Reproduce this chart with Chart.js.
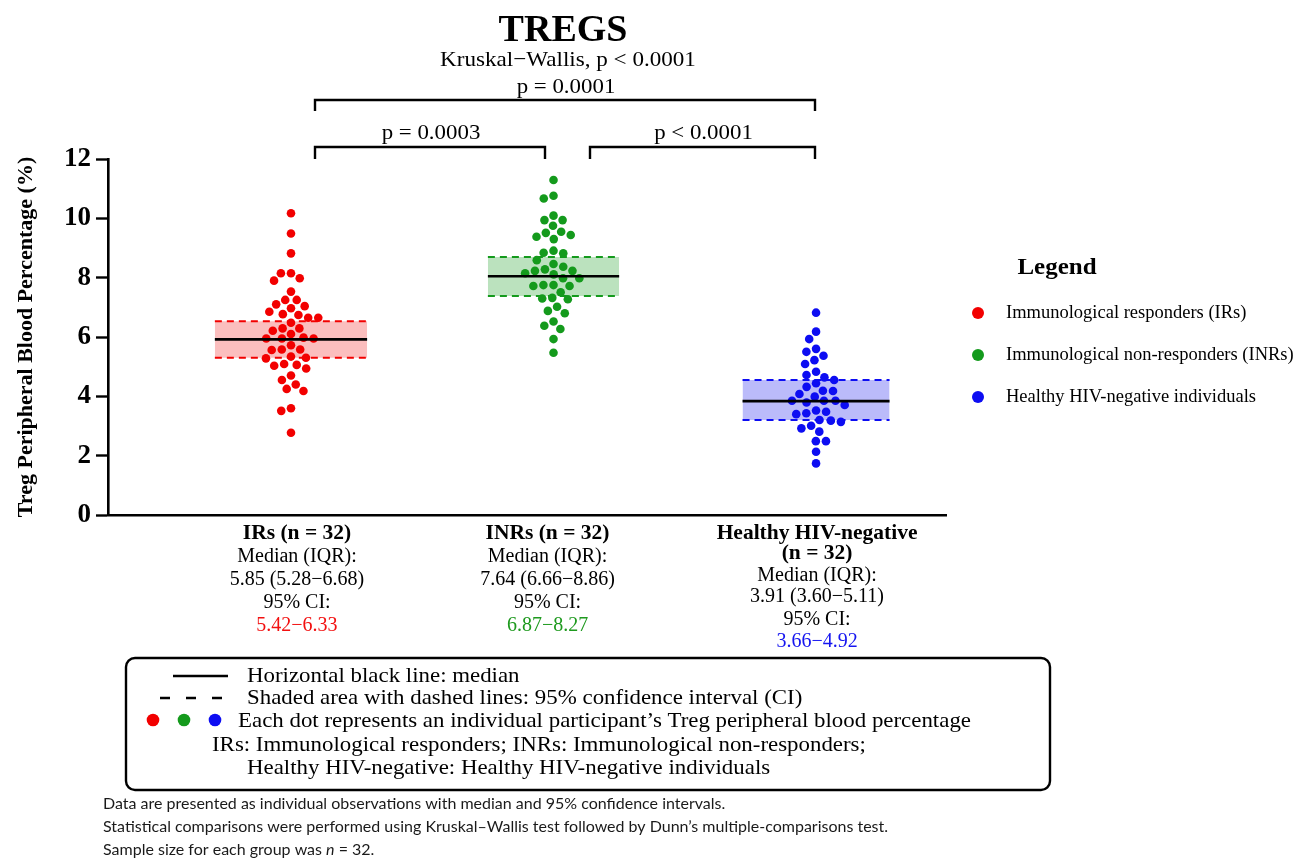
<!DOCTYPE html>
<html>
<head>
<meta charset="utf-8">
<script src="https://cdn.jsdelivr.net/npm/chart.js@4.4.0/dist/chart.umd.min.js"></script>
<style>
  html, body { margin: 0; padding: 0; background: #ffffff; }
  #wrap { position: relative; width: 1303px; height: 861px; }
  canvas { display: block; }
</style>
</head>
<body>
<div id="wrap"><canvas id="c" width="1303" height="861"></canvas></div>
<script>
// ---------------- DATA ----------------
const groupNames = ['IRs (n = 32)', 'INRs (n = 32)', 'Healthy HIV-negative'];
const legendLabels = ['Immunological responders (IRs)', 'Immunological non-responders (INRs)', 'Healthy HIV-negative individuals'];

const irsValues = [10.17, 9.49, 8.82, 8.15, 8.15, 7.98, 7.90, 7.53, 7.25, 7.25, 7.10, 7.04, 6.97, 6.85, 6.77, 6.74,
  6.65, 6.65, 6.48, 6.29, 6.29, 6.21, 6.10, 5.98, 5.95, 5.95, 5.95, 5.72, 5.58, 5.58, 5.56, 5.34, 5.30, 5.28,
  5.09, 5.06, 5.03, 4.94, 4.70, 4.55, 4.40, 4.25, 4.18, 3.60, 3.51, 2.77];
const inrsValues = [11.29, 10.76, 10.67, 10.09, 9.94, 9.94, 9.75, 9.55, 9.51, 9.44, 9.38, 9.30, 8.91, 8.84, 8.82,
  8.59, 8.46, 8.37, 8.28, 8.23, 8.23, 8.15, 8.11, 7.98, 7.98, 7.75, 7.75, 7.72, 7.72, 7.51, 7.32, 7.30, 7.27,
  7.02, 6.88, 6.80, 6.52, 6.38, 6.27, 5.93, 5.47];
const healthyValues = [6.82, 6.18, 5.93, 5.60, 5.50, 5.37, 5.22, 5.09, 4.83, 4.72, 4.64, 4.55, 4.44, 4.32, 4.19,
  4.18, 4.08, 3.99, 3.85, 3.85, 3.85, 3.79, 3.71, 3.52, 3.48, 3.43, 3.40, 3.20, 3.18, 3.14, 3.01, 2.92, 2.81,
  2.49, 2.49, 2.13, 1.74];

const medianLine = [5.92, 8.05, 3.84];
const ciLowLine = [5.30, 7.38, 3.20];
const ciHighLine = [6.53, 8.70, 4.55];

const medianIQRText = ['5.85 (5.28\u22126.68)', '7.64 (6.66\u22128.86)', '3.91 (3.60\u22125.11)'];
const ciText = ['5.42\u22126.33', '6.87\u22128.27', '3.66\u22124.92'];

const yTicks = [0, 2, 4, 6, 8, 10, 12];

const comparisons = [
  { from: 1, to: 3, label: 'p = 0.0001', level: 'top' },
  { from: 1, to: 2, label: 'p = 0.0003', level: 'low' },
  { from: 2, to: 3, label: 'p < 0.0001', level: 'low' }
];

// ---------------- STYLE ----------------
const SERIF = "'Liberation Serif', 'Times New Roman', serif";
const SANS = "Lato, 'Open Sans', sans-serif";
const dotColors = ['#f20000', '#149a1c', '#0d0df2'];
const bandColors = ['rgba(242,40,40,0.30)', 'rgba(30,160,40,0.30)', 'rgba(30,30,240,0.30)'];
const ciTextColors = ['#f21010', '#1f9a1f', '#1515f0'];
const boxHalf = [0.29, 0.25, 0.28];
const DOT_R = 4.3;

const seriesValues = [irsValues, inrsValues, healthyValues];

// ---------------- DATASETS ----------------
const datasets = [];
seriesValues.forEach((vals, g) => {
  const c = g + 1;
  datasets.push({
    type: 'line', label: 'median' + g, order: 0,
    data: [{ x: c - boxHalf[g], y: medianLine[g] }, { x: c + boxHalf[g], y: medianLine[g] }],
    borderColor: '#000', borderWidth: 2.6, pointRadius: 0, showLine: true, fill: false
  });
});
const dotIndex = [];
seriesValues.forEach((vals, g) => {
  dotIndex.push(datasets.length);
  datasets.push({
    type: 'scatter', label: legendLabels[g], order: 1,
    data: vals.map(v => ({ x: g + 1, y: v })),
    backgroundColor: dotColors[g], borderWidth: 0, pointRadius: DOT_R, pointHoverRadius: DOT_R
  });
});
seriesValues.forEach((vals, g) => {
  const c = g + 1;
  const hiIdx = datasets.length;
  datasets.push({
    type: 'line', label: 'ciHi' + g, order: 2,
    data: [{ x: c - boxHalf[g], y: ciHighLine[g] }, { x: c + boxHalf[g], y: ciHighLine[g] }],
    borderColor: dotColors[g], borderWidth: 2, borderDash: [7, 5], pointRadius: 0, showLine: true, fill: false
  });
  datasets.push({
    type: 'line', label: 'ciLo' + g, order: 2,
    data: [{ x: c - boxHalf[g], y: ciLowLine[g] }, { x: c + boxHalf[g], y: ciLowLine[g] }],
    borderColor: dotColors[g], borderWidth: 2, borderDash: [7, 5], pointRadius: 0, showLine: true,
    fill: hiIdx, backgroundColor: bandColors[g]
  });
});

// ---------------- HELPERS ----------------
function txt(ctx, s, x, y, o) {
  o = o || {};
  ctx.save();
  ctx.font = (o.style ? o.style + ' ' : '') + (o.weight || 'normal') + ' ' + (o.size || 18) + 'px ' + (o.family || SERIF);
  ctx.fillStyle = o.color || '#000';
  ctx.textAlign = o.align || 'center';
  ctx.textBaseline = 'middle';
  ctx.translate(x, y);
  ctx.scale(o.sx || 1, 1);
  ctx.fillText(s, 0, 0);
  ctx.restore();
}

const annotations = {
  id: 'annotations',
  afterDraw(chart) {
    const ctx = chart.ctx;
    const xs = chart.scales.x;
    const cx = g => xs.getPixelForValue(g + 1);

    txt(ctx, 'TREGS', 563, 31, { size: 38, weight: 'bold' });
    txt(ctx, 'Kruskal\u2212Wallis, p < 0.0001', 568, 60, { size: 22, sx: 1.05 });

    ctx.save();
    ctx.strokeStyle = '#000'; ctx.lineWidth = 2.4; ctx.lineJoin = 'miter';
    const brX = { '1-3': [315, 815], '1-2': [315, 545], '2-3': [590, 815] };
    comparisons.forEach(cmp => {
      const key = cmp.from + '-' + cmp.to;
      const x0 = brX[key][0], x1 = brX[key][1];
      const top = cmp.level === 'top';
      const yTop = top ? 100 : 147;
      const yLeg = top ? 111 : 159;
      ctx.beginPath();
      ctx.moveTo(x0, yLeg); ctx.lineTo(x0, yTop); ctx.lineTo(x1, yTop); ctx.lineTo(x1, yLeg);
      ctx.stroke();
      txt(ctx, cmp.label, (x0 + x1) / 2 + 1, top ? 87 : 133, { size: 22, sx: 1.04 });
    });
    ctx.restore();

    for (let g = 0; g < 3; g++) {
      const x = cx(g) + (g === 0 ? 6 : (g === 1 ? -6 : 1));
      const reg = { size: 20 };
      const bold = { size: 21.5, weight: 'bold' };
      if (g < 2) {
        txt(ctx, groupNames[g], x, 533, bold);
        txt(ctx, 'Median (IQR):', x, 557, reg);
        txt(ctx, medianIQRText[g], x, 580, reg);
        txt(ctx, '95% CI:', x, 603, reg);
        txt(ctx, ciText[g], x, 626, { size: 20, color: ciTextColors[g] });
      } else {
        txt(ctx, groupNames[g], x, 533, bold);
        txt(ctx, '(n = 32)', x, 553, bold);
        txt(ctx, 'Median (IQR):', x, 576, reg);
        txt(ctx, medianIQRText[g], x, 597, reg);
        txt(ctx, '95% CI:', x, 620, reg);
        txt(ctx, ciText[g], x, 642, { size: 20, color: ciTextColors[g] });
      }
    }

    txt(ctx, 'Legend', 1057, 268, { size: 24, weight: 'bold', sx: 1.04 });
    const ly = [313, 355, 397];
    for (let g = 0; g < 3; g++) {
      ctx.save();
      ctx.fillStyle = dotColors[g];
      ctx.beginPath(); ctx.arc(978, ly[g], 6, 0, Math.PI * 2); ctx.fill();
      ctx.restore();
      txt(ctx, legendLabels[g], 1006, ly[g], { size: 18.5, align: 'left' });
    }

    ctx.save();
    ctx.strokeStyle = '#000'; ctx.lineWidth = 2.4;
    ctx.beginPath();
    if (ctx.roundRect) ctx.roundRect(126, 658, 924, 132, 9); else ctx.rect(126, 658, 924, 132);
    ctx.stroke();
    ctx.beginPath(); ctx.moveTo(173, 676); ctx.lineTo(228, 676); ctx.stroke();
    ctx.setLineDash([10, 16]);
    ctx.beginPath(); ctx.moveTo(160, 698); ctx.lineTo(222, 698); ctx.stroke();
    ctx.setLineDash([]);
    ctx.restore();
    for (let g = 0; g < 3; g++) {
      ctx.save();
      ctx.fillStyle = dotColors[g];
      ctx.beginPath(); ctx.arc(153 + g * 31, 720, 6.3, 0, Math.PI * 2); ctx.fill();
      ctx.restore();
    }
    const bo = { size: 22, align: 'left', sx: 1.04 };
    txt(ctx, 'Horizontal black line: median', 247, 676, bo);
    txt(ctx, 'Shaded area with dashed lines: 95% confidence interval (CI)', 247, 698, bo);
    txt(ctx, 'Each dot represents an individual participant\u2019s Treg peripheral blood percentage', 238, 721, bo);
    txt(ctx, 'IRs: Immunological responders; INRs: Immunological non-responders;', 212, 745, bo);
    txt(ctx, 'Healthy HIV-negative: Healthy HIV-negative individuals', 247, 768, bo);

    const fs = 16;
    const fn = { size: fs, align: 'left', family: SANS, color: '#1a1a1a' };
    txt(ctx, 'Data are presented as individual observations with median and 95% confidence intervals.', 103, 804, fn);
    txt(ctx, 'Statistical comparisons were performed using Kruskal\u2013Wallis test followed by Dunn\u2019s multiple-comparisons test.', 103, 827, fn);
    ctx.save();
    ctx.font = fs + 'px ' + SANS; ctx.fillStyle = '#1a1a1a'; ctx.textBaseline = 'middle'; ctx.textAlign = 'left';
    let x = 103;
    const p1 = 'Sample size for each group was ';
    ctx.fillText(p1, x, 850); x += ctx.measureText(p1).width;
    ctx.font = 'italic ' + fs + 'px ' + SANS; ctx.fillText('n', x, 850); x += ctx.measureText('n').width;
    ctx.font = fs + 'px ' + SANS; ctx.fillText(' = 32.', x, 850);
    ctx.restore();
  }
};

// ---------------- CHART ----------------
const chart = new Chart(document.getElementById('c'), {
  type: 'scatter',
  data: { datasets },
  options: {
    responsive: false,
    animation: false,
    events: [],
    layout: { padding: { top: 159, right: 357, bottom: 336, left: 0 } },
    plugins: { legend: { display: false }, tooltip: { enabled: false }, title: { display: false } },
    scales: {
      x: {
        type: 'linear', min: 0.303, max: 3.495,
        ticks: { display: false },
        grid: { display: false, drawTicks: false },
        border: { display: true, width: 2.6, color: '#000' },
        afterFit(s) { s.height = 10; }
      },
      y: {
        type: 'linear', min: 0, max: 12,
        afterBuildTicks(s) { s.ticks = yTicks.map(v => ({ value: v })); },
        ticks: { color: '#000', padding: 5, font: { family: SERIF, weight: 'bold', size: 27 } },
        grid: { display: true, drawOnChartArea: false, drawTicks: true, tickLength: 12, tickWidth: 2.4, tickColor: '#000' },
        border: { display: true, width: 2.6, color: '#000' },
        title: { display: true, text: 'Treg Peripheral Blood Percentage (%)', color: '#000',
                 font: { family: SERIF, weight: 'bold', size: 22 }, padding: { top: 13, bottom: 0 } },
        afterFit(s) { s.width = 108; }
      }
    }
  },
  plugins: [annotations]
});

// Beeswarm layout of the dots (computed from the values through the scales)
function swarm(values, center) {
  const xs = chart.scales.x, ys = chart.scales.y;
  const unit = xs.getPixelForValue(2) - xs.getPixelForValue(1);
  const d = DOT_R * 2 + 1.5;
  const pts = values.map((v, i) => ({ v, i, py: ys.getPixelForValue(v), dx: 0 }));
  const order = pts.slice().sort((a, b) => a.py - b.py);
  const placed = [];
  order.forEach(p => {
    const cands = [0];
    placed.forEach(q => {
      const dy = p.py - q.py;
      if (Math.abs(dy) < d) {
        const w = Math.sqrt(d * d - dy * dy);
        cands.push(q.dx + w, q.dx - w);
      }
    });
    cands.sort((a, b) => (Math.abs(a) - Math.abs(b)) || (a - b));
    for (const c of cands) {
      if (placed.every(q => (q.dx - c) ** 2 + (q.py - p.py) ** 2 >= d * d - 0.01)) { p.dx = c; break; }
    }
    placed.push(p);
  });
  return pts.map(p => ({ x: center + p.dx / unit, y: p.v }));
}
seriesValues.forEach((vals, g) => {
  chart.data.datasets[dotIndex[g]].data = swarm(vals, g + 1);
});
chart.update('none');
</script>
</body>
</html>
